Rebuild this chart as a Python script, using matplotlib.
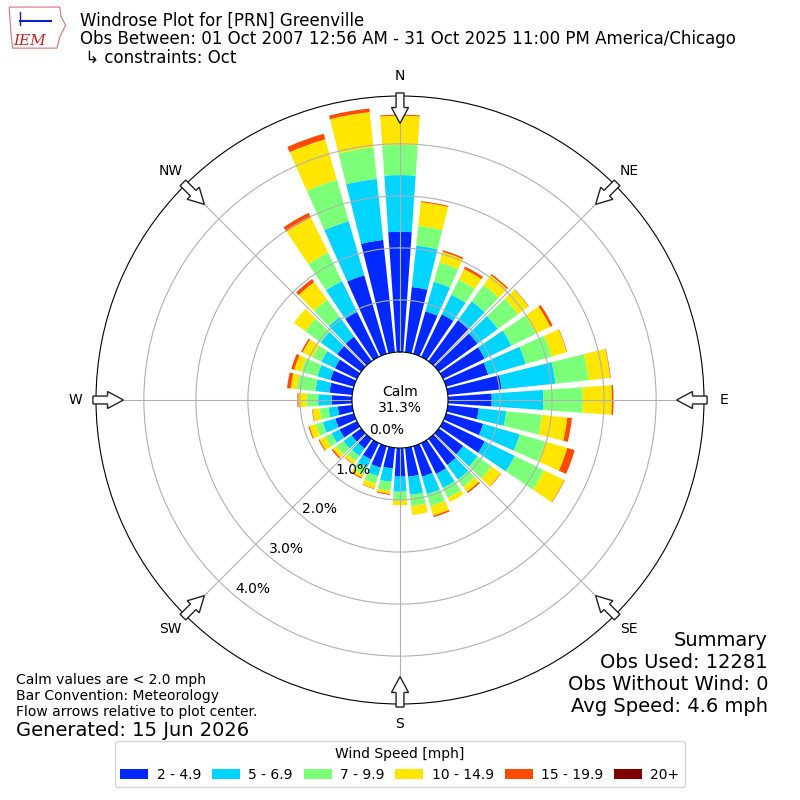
import numpy as np
import matplotlib.pyplot as plt
from matplotlib.patches import Patch, FancyArrow, Polygon

# wind direction bins (degrees, meteorological "from")
directions = np.arange(0, 360, 10)

speed_labels = ['2 - 4.9', '5 - 6.9', '7 - 9.9', '10 - 14.9', '15 - 19.9', '20+']
colors = ['#0028ff', '#00d4ff', '#7cff79', '#ffe600', '#ff4800', '#800000']

# frequency [%] per direction bin for each speed class
spd_2_5 = [2.31, 1.26, 0.85, 0.91, 0.97, 0.92, 0.89, 0.84, 1.04, 0.84, 0.60, 0.74,
           0.89, 0.58, 0.62, 0.66, 0.61, 0.56, 0.55, 0.40, 0.43, 0.35, 0.23, 0.23,
           0.37, 0.37, 0.28, 0.39, 0.44, 0.47, 0.47, 0.57, 0.58, 0.96, 1.57, 2.17]
spd_5_7 = [1.09, 0.80, 0.59, 0.42, 0.45, 0.48, 0.57, 0.75, 1.04, 0.99, 0.53, 0.73,
           0.64, 0.34, 0.35, 0.30, 0.35, 0.35, 0.29, 0.26, 0.17, 0.17, 0.18, 0.19,
           0.17, 0.25, 0.18, 0.26, 0.27, 0.26, 0.29, 0.39, 0.47, 0.66, 1.08, 1.18]
spd_7_10 = [0.58, 0.38, 0.39, 0.32, 0.39, 0.48, 0.52, 0.52, 0.64, 0.76, 0.69, 0.51,
            0.63, 0.33, 0.17, 0.21, 0.24, 0.22, 0.17, 0.17, 0.15, 0.14, 0.12, 0.17,
            0.14, 0.14, 0.17, 0.22, 0.36, 0.32, 0.19, 0.37, 0.41, 0.61, 0.83, 0.61]
spd_10_15 = [0.56, 0.46, 0.21, 0.23, 0.23, 0.25, 0.31, 0.30, 0.42, 0.56, 0.49, 0.44,
             0.43, 0.22, 0.12, 0.09, 0.19, 0.17, 0.09, 0.06, 0.10, 0.08, 0.07, 0.08,
             0.12, 0.13, 0.14, 0.16, 0.12, 0.14, 0.21, 0.27, 0.42, 0.75, 0.81, 0.68]
spd_15_20 = [0.02, 0.02, 0.03, 0.05, 0.03, 0.01, 0.05, 0.01, 0.01, 0.03, 0.09, 0.15,
             0.01, 0.01, 0.03, 0.00, 0.03, 0.00, 0.00, 0.02, 0.01, 0.02, 0.01, 0.03,
             0.02, 0.02, 0.01, 0.02, 0.07, 0.06, 0.03, 0.00, 0.07, 0.10, 0.11, 0.07]
spd_20p = [0.0] * 36

calm_pct = 31.3
ring_values = [0, 1, 2, 3, 4]
compass = ['N', 'NE', 'E', 'SE', 'S', 'SW', 'W', 'NW']
summary_lines = ['Summary', 'Obs Used: 12281', 'Obs Without Wind: 0', 'Avg Speed: 4.6 mph']

series = [spd_2_5, spd_5_7, spd_7_10, spd_10_15, spd_15_20, spd_20p]

fig = plt.figure(figsize=(8, 8), dpi=100)
ax = fig.add_axes([0.12, 0.12, 0.76, 0.76], projection='polar')
ax.set_theta_zero_location('N')
ax.set_theta_direction(-1)
ax.set_rorigin(-0.923)
ax.set_rlim(0, 4.92)

theta = np.radians(directions)
bottom = np.zeros(len(directions))
for vals, c in zip(series, colors):
    vals = np.array(vals)
    ax.bar(theta, vals, width=np.radians(8), bottom=bottom, color=c, linewidth=0)
    bottom += vals

ax.set_xticks(np.radians(np.arange(0, 360, 45)))
ax.set_xticklabels(compass, fontsize=10)
ax.tick_params(axis='x', pad=4)
ax.set_yticks(ring_values[1:])
ax.set_yticklabels([])
for v in ring_values:
    ax.text(np.radians(220), v, f'{v:.1f}%', ha='left', va='bottom',
            fontsize=10, zorder=6)

ax.text(0.5, 0.5, f'Calm\n{calm_pct}%', transform=ax.transAxes,
        ha='center', va='center', fontsize=10)

# flow arrows pointing toward the center
for b in np.radians(np.arange(0, 360, 45)):
    ux, uy = np.sin(b), np.cos(b)
    arr = FancyArrow(0.5 + 0.505 * ux, 0.5 + 0.505 * uy, -0.05 * ux, -0.05 * uy,
                     width=0.013, head_width=0.028, head_length=0.026,
                     length_includes_head=True, facecolor='white',
                     edgecolor='#222222', linewidth=1, transform=ax.transAxes,
                     clip_on=False, zorder=7)
    ax.add_patch(arr)

# header
fig.text(0.1, 0.951, 'Windrose Plot for [PRN] Greenville\n'
         'Obs Between: 01 Oct 2007 12:56 AM - 31 Oct 2025 11:00 PM America/Chicago\n'
         ' \u21b3 constraints: Oct', fontsize=12, ha='left', va='center',
         linespacing=1.05)

# simple IEM logo
lax = fig.add_axes([0.01, 0.937, 0.072, 0.057])
lax.add_patch(Polygon([[0.02, 0.95], [0.9, 0.95], [0.92, 0.75], [1.0, 0.55],
                       [0.9, 0.3], [0.85, 0.05], [0.08, 0.05], [0.05, 0.4]],
                      closed=True, fill=False, edgecolor='#e07070', lw=0.8))
lax.plot([0.2, 0.75], [0.65, 0.65], color='#1020c0', lw=1.5)
lax.plot([0.2, 0.2], [0.55, 0.85], color='#1020c0', lw=1)
lax.text(0.38, 0.2, 'IEM', color='#d02020', fontsize=11, fontstyle='italic',
         family='serif', ha='center', va='center')
lax.set_xlim(0, 1)
lax.set_ylim(0, 1)
lax.axis('off')

fig.text(0.02, 0.13, 'Calm values are < 2.0 mph\nBar Convention: Meteorology\n'
         'Flow arrows relative to plot center.', fontsize=10, ha='left', va='center')
fig.text(0.02, 0.0875, 'Generated: 15 Jun 2026', fontsize=14, ha='left', va='center')

for i, line in enumerate(summary_lines):
    fig.text(0.96, 0.2 - i * 0.0275, line, fontsize=14, ha='right', va='center')

handles = [Patch(facecolor=c) for c in colors]
fig.legend(handles, speed_labels, loc='lower center', bbox_to_anchor=(0.5, 0.007),
           ncol=6, title='Wind Speed [mph]', fontsize=10, title_fontsize=10,
           columnspacing=0.8, handletextpad=0.6)

fig.savefig('out.png', dpi=100)
